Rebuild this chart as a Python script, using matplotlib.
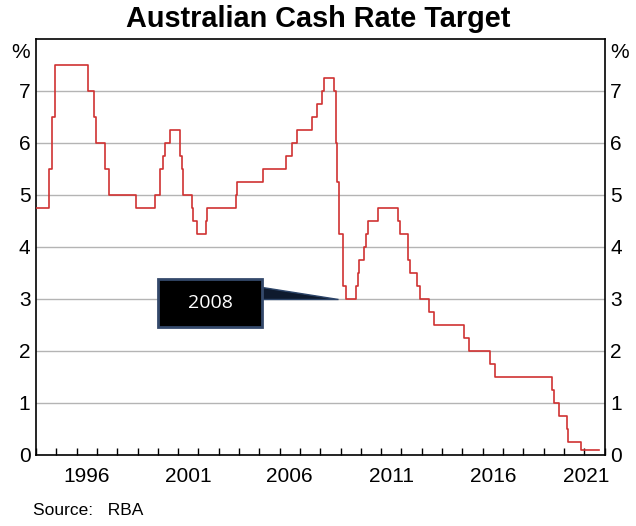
import matplotlib
matplotlib.use("Agg")
import matplotlib.pyplot as plt
import matplotlib.dates as mdates
from matplotlib.patches import Rectangle, Polygon
import pandas as pd

# RBA cash rate target decisions (date of change, new rate in %)
change_dates = [
    "1993-07-30", "1994-08-17", "1994-10-24", "1994-12-14", "1996-07-31",
    "1996-11-06", "1996-12-11", "1997-05-23", "1997-07-30", "1998-12-02",
    "1999-11-03", "2000-02-02", "2000-04-05", "2000-05-03", "2000-08-02",
    "2001-02-07", "2001-03-07", "2001-04-04", "2001-09-05", "2001-10-03",
    "2001-12-05", "2002-05-08", "2002-06-05", "2003-11-05", "2003-12-03",
    "2005-03-02", "2006-05-03", "2006-08-02", "2006-11-08", "2007-08-08",
    "2007-11-07", "2008-02-06", "2008-03-05", "2008-09-03", "2008-10-08",
    "2008-11-05", "2008-12-03", "2009-02-04", "2009-04-08", "2009-10-07",
    "2009-11-04", "2009-12-02", "2010-03-03", "2010-04-07", "2010-05-05",
    "2010-11-03", "2011-11-02", "2011-12-07", "2012-05-02", "2012-06-06",
    "2012-10-03", "2012-12-05", "2013-05-08", "2013-08-07", "2015-02-04",
    "2015-05-06", "2016-05-04", "2016-08-03", "2019-06-05", "2019-07-03",
    "2019-10-02", "2020-03-04", "2020-03-20", "2020-11-04", "2021-09-20",
]
cash_rate = [
    4.75, 5.50, 6.50, 7.50, 7.00,
    6.50, 6.00, 5.50, 5.00, 4.75,
    5.00, 5.50, 5.75, 6.00, 6.25,
    5.75, 5.50, 5.00, 4.75, 4.50,
    4.25, 4.50, 4.75, 5.00, 5.25,
    5.50, 5.75, 6.00, 6.25, 6.50,
    6.75, 7.00, 7.25, 7.00, 6.00,
    5.25, 4.25, 3.25, 3.00, 3.25,
    3.50, 3.75, 4.00, 4.25, 4.50,
    4.75, 4.50, 4.25, 3.75, 3.50,
    3.25, 3.00, 2.75, 2.50, 2.25,
    2.00, 1.75, 1.50, 1.25, 1.00,
    0.75, 0.50, 0.25, 0.10, 0.10,
]

year_labels = [1996, 2001, 2006, 2011, 2016, 2021]
y_ticks = [0, 1, 2, 3, 4, 5, 6, 7]

callout_text = "2008"
callout_target = ("2008-11-16", 3.0)

plt.rcParams["font.family"] = ["Liberation Sans", "DejaVu Sans"]

dates = pd.to_datetime(change_dates)

fig = plt.figure(figsize=(6.36, 5.26), dpi=100)
ax = fig.add_axes([0.0566, 0.135, 0.894, 0.791])

ax.plot(dates, cash_rate, drawstyle="steps-post", color="#d03232", lw=1.2, zorder=3)

ax.set_xlim(pd.Timestamp("1994-01-01"), pd.Timestamp("2022-01-01"))
ax.set_ylim(0, 8)

# year ticks inside, labels centred in the year
ax.xaxis.set_major_locator(mdates.YearLocator(1))
ax.xaxis.set_major_formatter(plt.NullFormatter())
label_pos = [pd.Timestamp(f"{y}-07-01") for y in year_labels]
label_pos[-1] = pd.Timestamp(f"{year_labels[-1]}-02-01")
ax.xaxis.set_minor_locator(plt.FixedLocator(mdates.date2num(label_pos)))
ax.xaxis.set_minor_formatter(plt.FixedFormatter([str(y) for y in year_labels]))
ax.tick_params(axis="x", which="major", direction="in", length=5, width=1, color="black")
ax.tick_params(axis="x", which="minor", length=0, pad=9, labelsize=15)

ax.set_yticks(y_ticks)
ax.set_yticklabels([str(v) for v in y_ticks])
ax.tick_params(axis="y", length=0, labelsize=15, pad=4, labelright=True, right=True)
ax.yaxis.grid(True, color="#b4b4b4", lw=1)
ax.set_axisbelow(True)

for side in ["left", "right", "top", "bottom"]:
    ax.spines[side].set_color("black")
    ax.spines[side].set_linewidth(1.2)

ax.text(-0.01, 7.93, "%", transform=ax.get_yaxis_transform(), ha="right", va="top", fontsize=15)
ax.text(1.01, 7.93, "%", transform=ax.get_yaxis_transform(), ha="left", va="top", fontsize=15)

fig.text(0.5, 0.99, "Australian Cash Rate Target", ha="center", va="top",
         fontsize=20.8, fontweight="bold")
fig.text(0.052, 0.015, "Source:   RBA", ha="left", va="bottom", fontsize=12.5)

# callout box with wedge pointer
bx0 = mdates.date2num(pd.Timestamp("2000-01-01"))
bx1 = mdates.date2num(pd.Timestamp("2005-02-20"))
by0, by1 = 2.46, 3.39
tip_x = mdates.date2num(pd.Timestamp(callout_target[0]))
tip_y = callout_target[1]
ax.add_patch(Polygon([(bx1 - 0.1, 3.23), (bx1 - 0.1, 3.0), (tip_x, tip_y)],
                     closed=True, facecolor="#0e1a2e", edgecolor="#2c4468",
                     lw=1, zorder=4))
ax.add_patch(Rectangle((bx0, by0), bx1 - bx0, by1 - by0, facecolor="black",
                       edgecolor="#34496b", lw=2, zorder=5))
ax.text((bx0 + bx1) / 2, (by0 + by1) / 2, callout_text, ha="center", va="center",
        color="white", fontsize=14, family=["Open Sans", "DejaVu Sans"], zorder=6)

plt.savefig("out.png", dpi=100)
